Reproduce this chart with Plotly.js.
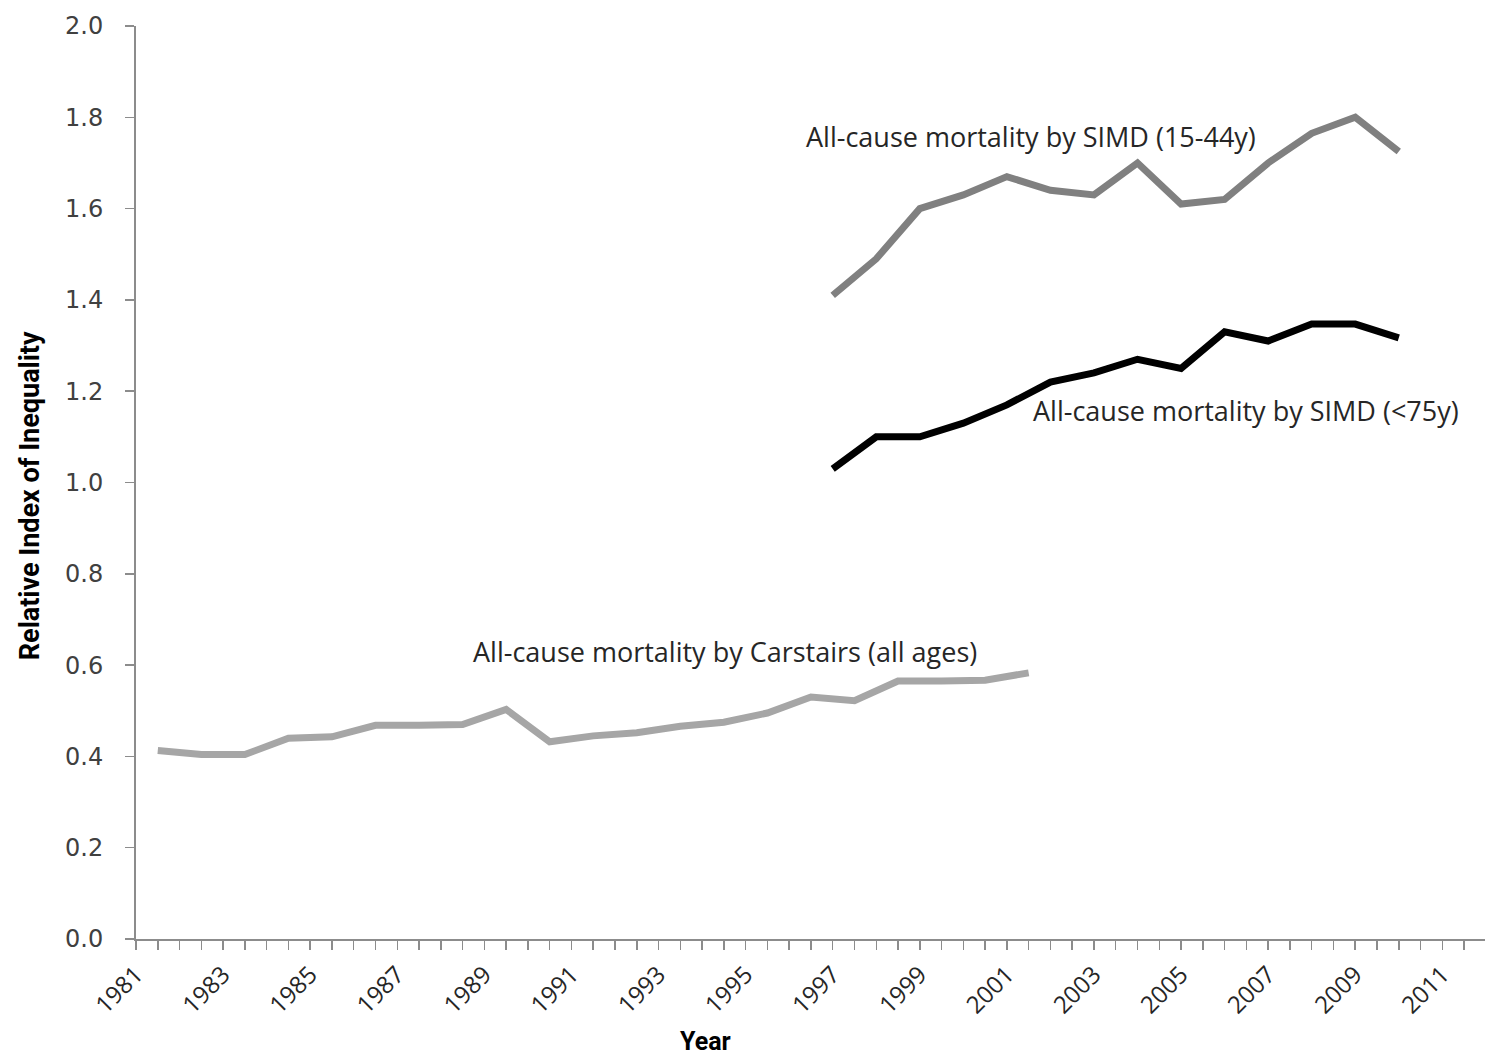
<!DOCTYPE html>
<html>
<head>
<meta charset="utf-8">
<script src="https://cdn.plot.ly/plotly-3.0.1.min.js"></script>
<style>html,body{margin:0;padding:0;background:#fff;}#chart{width:1485px;height:1059px;}</style>
</head>
<body>
<div id="chart"></div>
<script>
// Carstairs series (plotted at mid-year positions)
const carstairsYears = [1981.5,1982.5,1983.5,1984.5,1985.5,1986.5,1987.5,1988.5,1989.5,1990.5,1991.5,1992.5,1993.5,1994.5,1995.5,1996.5,1997.5,1998.5,1999.5,2000.5,2001.5];
const carstairsValues = [0.413,0.404,0.404,0.440,0.443,0.468,0.468,0.470,0.503,0.432,0.445,0.452,0.466,0.475,0.495,0.530,0.522,0.565,0.565,0.567,0.583];

const simdYears = [1997,1998,1999,2000,2001,2002,2003,2004,2005,2006,2007,2008,2009,2010];
const simd1544Values = [1.41,1.49,1.60,1.63,1.67,1.64,1.63,1.70,1.61,1.62,1.70,1.765,1.80,1.725];
const simd75Values = [1.03,1.10,1.10,1.13,1.17,1.22,1.24,1.27,1.25,1.33,1.31,1.347,1.347,1.317];

const labels = {
  carstairs: "All-cause mortality by Carstairs (all ages)",
  simd1544: "All-cause mortality by SIMD (15-44y)",
  simd75: "All-cause mortality by SIMD (<75y)"
};
const xTitle = "Year";
const yTitle = "Relative Index of Inequality";

const traces = [
  {x: carstairsYears, y: carstairsValues, mode: 'lines', line: {color: '#a6a6a6', width: 7}, name: labels.carstairs},
  {x: simdYears, y: simd1544Values, mode: 'lines', line: {color: '#808080', width: 7}, name: labels.simd1544},
  {x: simdYears, y: simd75Values, mode: 'lines', line: {color: '#000000', width: 7}, name: labels.simd75}
];

const annFont = {family: 'Open Sans, sans-serif', size: 27, color: '#262626'};
const titleFont = {family: 'Roboto, sans-serif', size: 27, color: '#000', weight: 700};
const xTitleFont = {family: 'Roboto, sans-serif', size: 25, color: '#000', weight: 700};
const layout = {
  width: 1485, height: 1059,
  margin: {l: 136, r: 0, t: 26, b: 120},
  paper_bgcolor: '#ffffff', plot_bgcolor: '#ffffff',
  showlegend: false,
  xaxis: {
    range: [1981, 2011.98],
    tick0: 1981, dtick: 2, tickformat: 'd',
    ticks: 'outside', ticklen: 9, tickwidth: 1.5, tickcolor: '#8c8c8c',
    minor: {dtick: 0.5, tick0: 1981, ticks: 'outside', ticklen: 9, tickwidth: 1.5, tickcolor: '#8c8c8c', showgrid: false},
    showline: true, linecolor: '#8c8c8c', linewidth: 2,
    showgrid: false, zeroline: false,
    tickangle: -45,
    ticklabelstandoff: 1,
    tickfont: {family: 'Open Sans, sans-serif', size: 24, color: '#262626'}
  },
  yaxis: {
    range: [0, 2], dtick: 0.2, tickformat: '.1f',
    ticks: 'outside', ticklen: 9, tickwidth: 1.5, tickcolor: '#8c8c8c',
    showline: true, linecolor: '#8c8c8c', linewidth: 2,
    showgrid: false, zeroline: false,
    ticklabelstandoff: 17,
    tickfont: {family: 'DejaVu Sans, sans-serif', size: 24, color: '#404040'}
  },
  annotations: [
    {x: 1994.53, y: 0.629, xref: 'x', yref: 'y', xanchor: 'center', yanchor: 'middle', showarrow: false, text: labels.carstairs, font: annFont},
    {x: 2001.55, y: 1.757, xref: 'x', yref: 'y', xanchor: 'center', yanchor: 'middle', showarrow: false, text: labels.simd1544, font: annFont},
    {x: 2006.5, y: 1.157, xref: 'x', yref: 'y', xanchor: 'center', yanchor: 'middle', showarrow: false, text: labels.simd75, font: annFont},
    {x: 0.4218, y: -0.112, xref: 'paper', yref: 'paper', xanchor: 'center', yanchor: 'middle', showarrow: false, text: '<b>' + xTitle + '</b>', font: xTitleFont},
    {x: -0.0786, y: 0.486, xref: 'paper', yref: 'paper', xanchor: 'center', yanchor: 'middle', showarrow: false, textangle: -90, text: '<b>' + yTitle + '</b>', font: titleFont}
  ]
};

Plotly.newPlot('chart', traces, layout, {displayModeBar: false, staticPlot: true});
</script>
</body>
</html>
